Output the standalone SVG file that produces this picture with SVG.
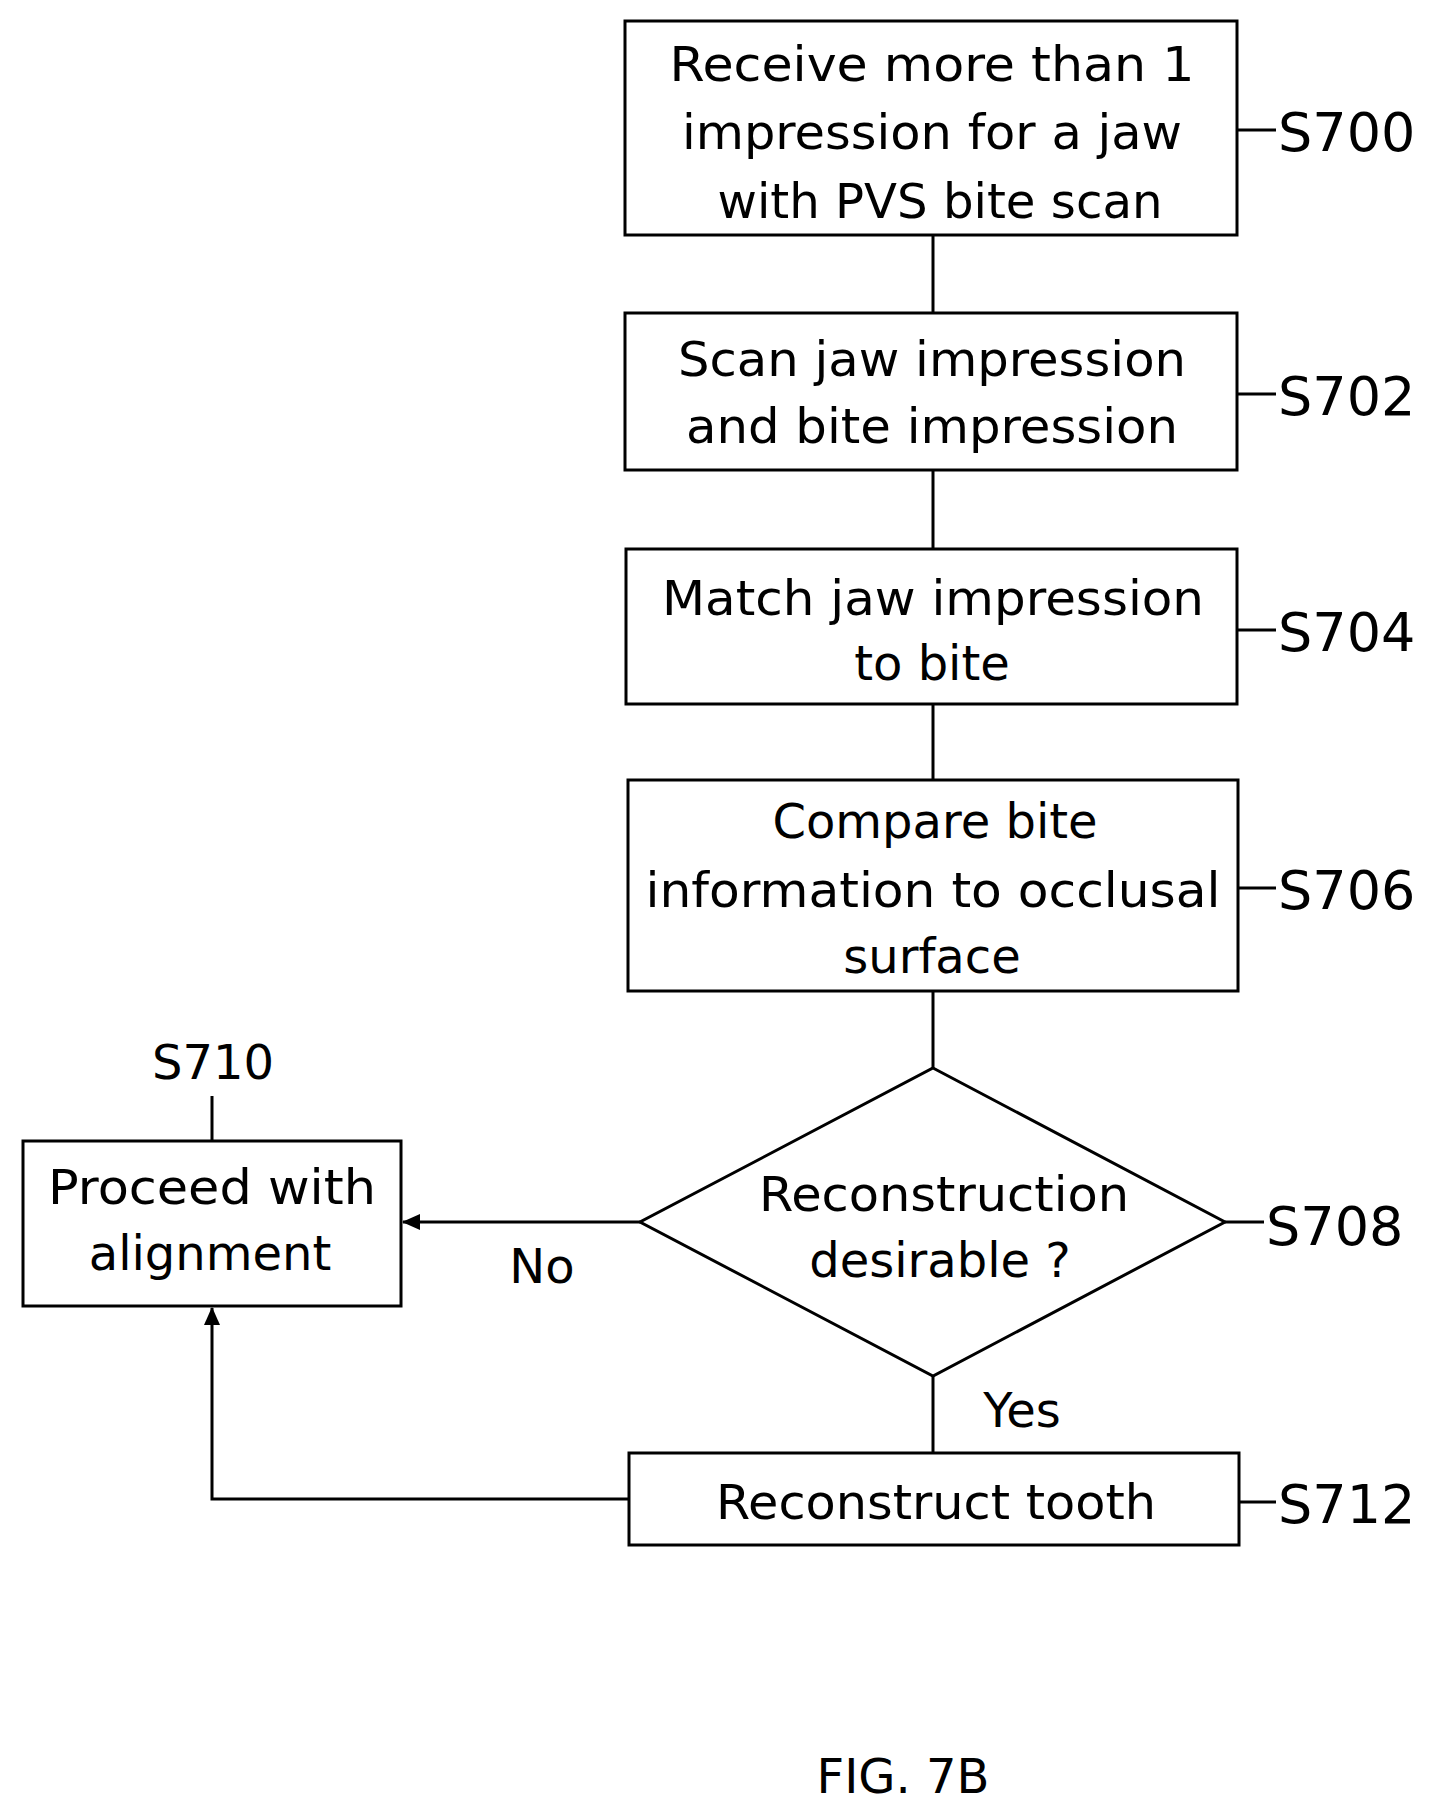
<svg xmlns="http://www.w3.org/2000/svg" width="1436" height="1817" viewBox="0 0 1436 1817">
<style>
.b{fill:#fff;stroke:#000;stroke-width:3}
.l{fill:none;stroke:#000;stroke-width:3}
text{font-family:"DejaVu Sans","Liberation Sans",sans-serif;font-size:48px;fill:#000;text-anchor:middle}
.s{text-anchor:start;font-size:54px}
</style>
<defs><marker id="a" markerWidth="18" markerHeight="16" refX="17" refY="8" orient="auto" markerUnits="userSpaceOnUse" viewBox="0 0 18 16"><path d="M0,0L18,8L0,16z" fill="#000"/></marker></defs>
<rect width="1436" height="1817" fill="#fff"/>
<g id="connectors">
<line class="l" x1="933" y1="235" x2="933" y2="313"/>
<line class="l" x1="933" y1="470" x2="933" y2="549"/>
<line class="l" x1="933" y1="704" x2="933" y2="780"/>
<line class="l" x1="933" y1="991" x2="933" y2="1068"/>
<line class="l" x1="933" y1="1376" x2="933" y2="1453"/>
<line class="l" x1="640" y1="1222" x2="403" y2="1222" marker-end="url(#a)"/>
<polyline class="l" points="629,1499 212,1499 212,1308" marker-end="url(#a)"/>
<text x="542" y="1283">No</text>
<text x="1022" y="1427">Yes</text>
</g>
<g id="S700"><rect class="b" x="625" y="21" width="612" height="214"/>
<text x="932" y="81" textLength="525" lengthAdjust="spacingAndGlyphs">Receive more than 1</text><text x="932" y="149" textLength="500" lengthAdjust="spacingAndGlyphs">impression for a jaw</text><text x="940" y="218" textLength="445" lengthAdjust="spacingAndGlyphs">with PVS bite scan</text>
<line class="l" x1="1237" y1="130" x2="1276" y2="130"/><text class="s" x="1278" y="151">S700</text></g>
<g id="S702"><rect class="b" x="625" y="313" width="612" height="157"/>
<text x="932" y="376" textLength="508" lengthAdjust="spacingAndGlyphs">Scan jaw impression</text><text x="932" y="443" textLength="492" lengthAdjust="spacingAndGlyphs">and bite impression</text>
<line class="l" x1="1237" y1="394" x2="1276" y2="394"/><text class="s" x="1278" y="415">S702</text></g>
<g id="S704"><rect class="b" x="626" y="549" width="611" height="155"/>
<text x="933" y="615" textLength="542" lengthAdjust="spacingAndGlyphs">Match jaw impression</text><text x="932" y="680">to bite</text>
<line class="l" x1="1237" y1="630" x2="1276" y2="630"/><text class="s" x="1278" y="651">S704</text></g>
<g id="S706"><rect class="b" x="628" y="780" width="610" height="211"/>
<text x="935" y="838">Compare bite</text><text x="933" y="907" textLength="575" lengthAdjust="spacingAndGlyphs">information to occlusal</text><text x="932" y="973">surface</text>
<line class="l" x1="1238" y1="888" x2="1276" y2="888"/><text class="s" x="1278" y="909">S706</text></g>
<g id="S708"><polygon class="b" points="933,1068 1225,1222 933,1376 640,1222"/>
<text x="944" y="1211" textLength="370" lengthAdjust="spacingAndGlyphs">Reconstruction</text><text x="940" y="1277">desirable ?</text>
<line class="l" x1="1225" y1="1222" x2="1264" y2="1222"/><text class="s" x="1266" y="1245">S708</text></g>
<g id="S712"><rect class="b" x="629" y="1453" width="610" height="92"/>
<text x="936" y="1519" textLength="440" lengthAdjust="spacingAndGlyphs">Reconstruct tooth</text>
<line class="l" x1="1239" y1="1502" x2="1276" y2="1502"/><text class="s" x="1278" y="1523">S712</text></g>
<g id="S710"><rect class="b" x="23" y="1141" width="378" height="165"/>
<text x="212" y="1204" textLength="328" lengthAdjust="spacingAndGlyphs">Proceed with</text><text x="210" y="1270">alignment</text>
<line class="l" x1="212" y1="1096" x2="212" y2="1141"/><text x="213" y="1079" font-size="54">S710</text></g>
<text x="903" y="1793" font-size="78">FIG. 7B</text>
</svg>
